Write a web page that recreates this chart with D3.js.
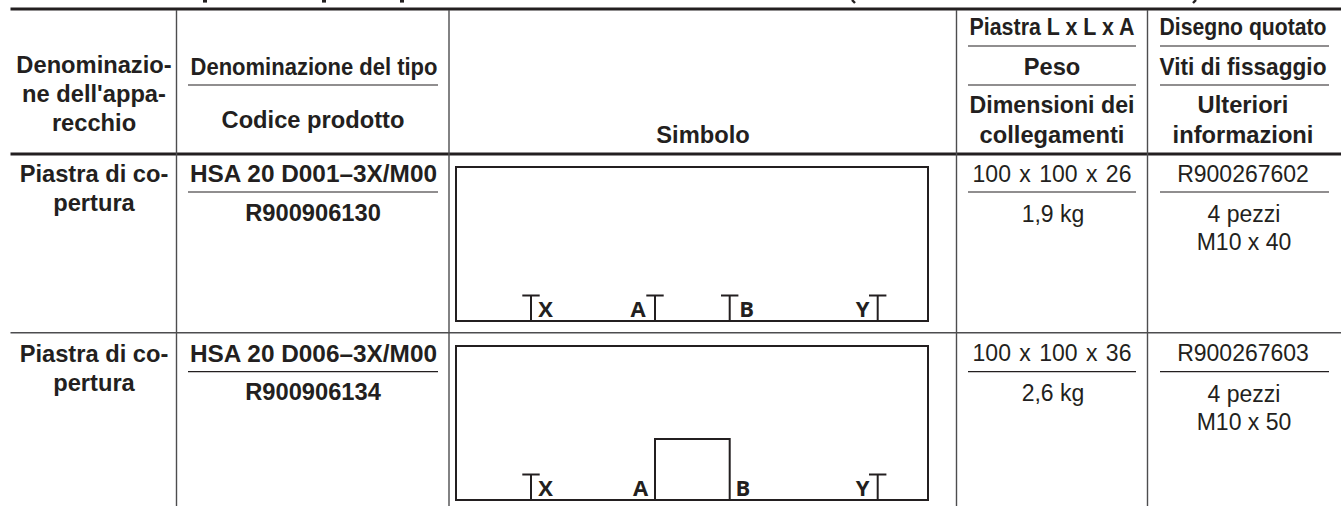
<!DOCTYPE html>
<html><head><meta charset="utf-8">
<script src="https://cdnjs.cloudflare.com/ajax/libs/d3/7.8.5/d3.min.js"></script>
<style>html,body{margin:0;padding:0;background:#fff}svg{display:block}text{fill:#231f20;font-family:"Liberation Sans",Arial,sans-serif}</style>
</head><body><div id="c"></div>
<script>
const colHeadNames = ["Denominazio-","ne dell'appa-","recchio"];
const headType = ["Denominazione del tipo","Codice prodotto"];
const headSymbol = "Simbolo";
const headPlate = ["Piastra L x L x A","Peso","Dimensioni dei","collegamenti"];
const headDraw = ["Disegno quotato","Viti di fissaggio","Ulteriori","informazioni"];
const rowNames = [["Piastra di co-","pertura"],["Piastra di co-","pertura"]];
const rowTypes = ["HSA 20 D001–3X/M00","HSA 20 D006–3X/M00"];
const rowCodes = ["R900906130","R900906134"];
const rowSizes = ["100 x 100 x 26","100 x 100 x 36"];
const rowWeights = ["1,9 kg","2,6 kg"];
const rowDrawings = ["R900267602","R900267603"];
const rowScrews = [["4 pezzi","M10 x 40"],["4 pezzi","M10 x 50"]];
const ports = ["X","A","B","Y"];
const ink="#231f20", rule="#4d4d4f";
const svg=d3.select("#c").append("svg").attr("width",1341).attr("height",506);
function line(x1,y1,x2,y2,w,c){svg.append("line").attr("x1",x1).attr("y1",y1).attr("x2",x2).attr("y2",y2).attr("stroke",c||ink).attr("stroke-width",w);}
function txt(s,cx,y,size,bold,width){
  const t=svg.append("text").attr("text-anchor","middle").attr("font-size",size).attr("font-weight",bold?700:400).text(s);
  let sx=1;
  if(width){sx=width/t.node().getComputedTextLength();}
  t.attr("transform",`translate(${cx},${y}) scale(${sx},1)`);
  return t;
}
// cropped remains of the title above the table
[205,324,402].forEach(x=>line(x,0,x,2.6,4));
line(852,0,855,3,2.4);
line(1196,0,1193,3,2.4);
// table rules
const R=1341;
line(10.5,9,R,9,2.8);
line(10.5,154,R,154,2.8);
line(10.5,332.7,R,332.7,1.4,rule);
[176.5,449,956.5,1147.5].forEach(x=>line(x,10,x,506,1.4,rule));
// sub rules
line(188,85,438,85,1.2);
[46,85].forEach(y=>{line(968,y,1136,y,1.2);line(1160,y,1329,y,1.2);});
[192,371.7].forEach(y=>{line(188,y,438,y,1.2);line(968,y,1136,y,1.2);line(1160,y,1329,y,1.2);});
// header
const HS=23.7;
colHeadNames.forEach((s,i)=>txt(s,94,[72.7,101.7,130.7][i],HS,true));
txt(headType[0],314,75,HS,true,247);
txt(headType[1],313,128,HS,true);
txt(headSymbol,703,142.7,HS,true);
headPlate.forEach((s,i)=>txt(s,1052,[35,75,113,142.7][i],HS,true,i==0?165:(i==2?165:null)));
headDraw.forEach((s,i)=>txt(s,1243,[35,75,113,142.7][i],HS,true,i<2?167:null));
// rows
const rowTop=[0,179.5];
rowTop.forEach((dy,r)=>{
  rowNames[r].forEach((s,i)=>txt(s,94,[182,211][i]+dy,HS,true));
  txt(rowTypes[r],313.5,182+dy,HS,true,247);
  txt(rowCodes[r],313,220.5+dy,HS,true);
  txt(rowSizes[r],1052,181.7+dy,23,false).attr("word-spacing",2);
  txt(rowWeights[r],1053,221.7+dy,23,false);
  txt(rowDrawings[r],1243,181.7+dy,23,false);
  rowScrews[r].forEach((s,i)=>txt(s,1244,[222,250][i]+dy,23,false));
});
// symbols
const px={X:531,A:655,B:729.7,Y:877.7};
const lx=[{X:545.7,A:638,B:746.7,Y:862.7},{X:545.7,A:640.7,B:743,Y:862.7}];
[0,179].forEach((dy,r)=>{
  const bot=321+dy,top=167+dy;
  svg.append("rect").attr("x",456).attr("y",top).attr("width",472).attr("height",154).attr("fill","none").attr("stroke",ink).attr("stroke-width",2);
  ports.forEach(p=>{
    const inBox=r==1&&(p=="A"||p=="B");
    if(!inBox){
      line(px[p],bot,px[p],bot-25.5,2);
      line(px[p]-8.7,bot-25.5,px[p]+8.7,bot-25.5,2);
    }
    svg.append("text").attr("x",lx[r][p]).attr("y",bot-4.5).attr("text-anchor","middle")
      .style("font-family","'Open Sans'").attr("font-weight",700).attr("font-size",22).text(p);
  });
  if(r==1){
    svg.append("path").attr("d",`M${px.A},${bot}V${bot-61}H${px.B}V${bot}`).attr("fill","none").attr("stroke",ink).attr("stroke-width",2);
  }
});
</script></body></html>
